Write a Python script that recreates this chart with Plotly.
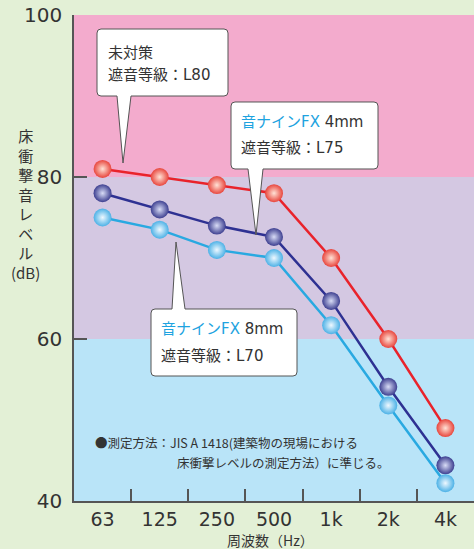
import plotly.graph_objects as go

categories = ["63", "125", "250", "500", "1k", "2k", "4k"]
untreated = [81, 80, 79, 78, 70, 60, 49]
fx4mm = [78, 76, 74, 72.6, 64.7, 54.1, 44.4]
fx8mm = [75, 73.5, 71, 70, 61.7, 51.8, 42.2]
y_ticks = [40, 60, 80, 100]

W, H = 474, 549
L, R, T, B = 74, 0, 15, 48
PW, PH = W - L - R, H - T - B

def px(xp):
    return (xp - L) / PW

def py(yp):
    return (H - B - yp) / PH

FONT = "Noto Sans CJK JP, Noto Sans, sans-serif"
WIDEFONT = "DejaVu Sans, Noto Sans CJK JP, sans-serif"
TXT = "#333333"
CYAN = "#1ea3e0"

fig = go.Figure()

series = [
    (untreated, "#e9232b", "#e8453c", "#ffe2d6"),
    (fx4mm, "#2e3192", "#3d3f90", "#d8dcf6"),
    (fx8mm, "#29a9e1", "#4cb1e6", "#eef8ff"),
]
for vals, lc, mc, cc in series:
    fig.add_trace(go.Scatter(
        x=categories, y=vals, mode="lines+markers",
        line=dict(color=lc, width=2.5),
        marker=dict(size=18, color=mc, line=dict(width=0),
                    gradient=dict(type="radial", color=cc)),
        showlegend=False, hoverinfo="skip", cliponaxis=False,
    ))

# background bands
bands = [(80, 100, "#f3abcd"), (60, 80, "#d4c8e2"), (40, 60, "#b9e4f8")]
for y0, y1, c in bands:
    fig.add_shape(type="rect", xref="paper", yref="y", x0=0, x1=1, y0=y0, y1=y1,
                  fillcolor=c, line=dict(width=0), layer="below")

def callout(x0, y0, x1, y1, xa, xb, tx, ty, side, r=4):
    def P(a, b):
        return f"{px(a):.5f},{py(b):.5f}"
    if side == "bottom":
        d = (f"M {P(x0 + r, y0)} L {P(x1 - r, y0)} Q {P(x1, y0)} {P(x1, y0 + r)} "
             f"L {P(x1, y1 - r)} Q {P(x1, y1)} {P(x1 - r, y1)} L {P(xb, y1)} "
             f"L {P(tx, ty)} L {P(xa, y1)} L {P(x0 + r, y1)} Q {P(x0, y1)} {P(x0, y1 - r)} "
             f"L {P(x0, y0 + r)} Q {P(x0, y0)} {P(x0 + r, y0)} Z")
    else:
        d = (f"M {P(x0 + r, y0)} L {P(xa, y0)} L {P(tx, ty)} L {P(xb, y0)} "
             f"L {P(x1 - r, y0)} Q {P(x1, y0)} {P(x1, y0 + r)} "
             f"L {P(x1, y1 - r)} Q {P(x1, y1)} {P(x1 - r, y1)} "
             f"L {P(x0 + r, y1)} Q {P(x0, y1)} {P(x0, y1 - r)} "
             f"L {P(x0, y0 + r)} Q {P(x0, y0)} {P(x0 + r, y0)} Z")
    fig.add_shape(type="path", path=d, xref="paper", yref="paper",
                  fillcolor="white", line=dict(color="#555555", width=1), layer="above")

callout(97, 29, 228, 96, 117, 131, 123, 163, "bottom")
callout(231, 102, 378, 169, 248, 263, 256, 235, "bottom")
callout(151, 309, 297, 376, 172, 185, 176, 242, "top")

def text(xp, yp, s, size=15, anchor="left", family=FONT):
    fig.add_annotation(x=px(xp), y=py(yp), xref="paper", yref="paper", text=s,
                       showarrow=False, xanchor=anchor, yanchor="middle",
                       font=dict(family=family, size=size, color=TXT))

text(106, 51, "未対策")
text(106, 75, "遮音等級：L80", family=WIDEFONT)
text(239, 122, f"<span style='color:{CYAN}'>音ナインFX</span> 4mm", family=WIDEFONT)
text(239, 148, "遮音等級：L75", family=WIDEFONT)
text(159, 329, f"<span style='color:{CYAN}'>音ナインFX</span> 8mm", family=WIDEFONT)
text(159, 356, "遮音等級：L70", family=WIDEFONT)

text(93, 442, "●測定方法：JIS A 1418(建築物の現場における", size=12.5)
text(175, 462, "床衝撃レベルの測定方法）に準じる。", size=12.5)

# axis titles
text(25, 204, "床<br>衝<br>撃<br>音<br>レ<br>ベ<br>ル<br>(dB)", size=15, anchor="center")
text(270, 540, "周波数（Hz）", size=14, anchor="center")

fig.update_layout(
    width=W, height=H,
    margin=dict(l=L, r=R, t=T, b=B, pad=0),
    paper_bgcolor="#e3f0d6", plot_bgcolor="#b9e4f8",
    font=dict(family=FONT, color=TXT),
    xaxis=dict(type="category", range=[-0.5, 6.5], tickson="boundaries",
               ticks="inside", ticklen=12, tickwidth=1.5, tickcolor="#555555",
               showline=True, linecolor="#555555", linewidth=1.5,
               showgrid=False, zeroline=False, fixedrange=True, automargin=False,
               tickfont=dict(size=19, color=TXT, family=WIDEFONT), ticklabelstandoff=0),
    yaxis=dict(range=[40, 100], tickvals=y_ticks, ticks="inside", ticklen=13,
               tickwidth=1.5, tickcolor="#555555",
               showline=True, linecolor="#555555", linewidth=1.5,
               showgrid=False, zeroline=False, fixedrange=True, automargin=False,
               tickfont=dict(size=20, color=TXT, family=WIDEFONT), ticklabelstandoff=6),
)

fig.write_html("out.html", config={"displayModeBar": False},
               post_script="document.body.style.margin='0';document.body.style.overflow='hidden';")
